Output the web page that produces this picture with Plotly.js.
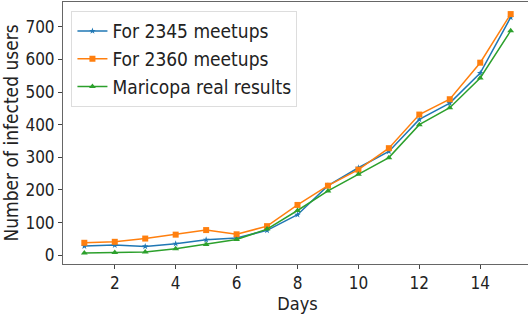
<!DOCTYPE html>
<html><head><meta charset="utf-8">
<script src="https://cdn.plot.ly/plotly-3.0.1.min.js"></script>
<style>html,body{margin:0;padding:0;overflow:hidden;background:#fff}</style>
</head><body><div id="chart"></div>
<script>
const days = [1,2,3,4,5,6,7,8,9,10,11,12,13,14,15];
const meetups2345 = [28,31,27,35,47,53,76,124,213,268,318,416,466,558,729];
const meetups2360 = [38,41,51,63,77,64,89,154,213,262,328,431,478,590,739];
const maricopa = [7,8,10,20,33,48,80,137,197,248,299,400,452,543,688];
const names = ["For 2345 meetups","For 2360 meetups","Maricopa real results"];
const F = "DejaVu Sans Condensed, DejaVu Sans, sans-serif";
const traces = [
 {x:days,y:meetups2345,name:names[0],mode:'lines+markers',line:{color:'#1f77b4',width:1.5},marker:{symbol:'star',size:5,color:'#1f77b4'}},
 {x:days,y:meetups2360,name:names[1],mode:'lines+markers',line:{color:'#ff7f0e',width:1.5},marker:{symbol:'square',size:6,color:'#ff7f0e'}},
 {x:days,y:maricopa,name:names[2],mode:'lines+markers',line:{color:'#2ca02c',width:1.5},marker:{symbol:'triangle-up',size:6,color:'#2ca02c'}}
];
const layout = {
 width:532,height:316,
 margin:{l:63,r:0,t:2,b:52},
 paper_bgcolor:'#fff',plot_bgcolor:'#fff',
 font:{family:F,color:'#222',size:16},
 showlegend:true,
 legend:{x:0.018,y:0.965,xanchor:'left',yanchor:'top',bgcolor:'rgba(255,255,255,0.8)',bordercolor:'#ddd',borderwidth:1,font:{family:F,size:19,color:'#222'},tracegroupgap:0},
 xaxis:{range:[0.3,15.7],tickvals:[2,4,6,8,10,12,14],ticks:'outside',ticklen:4,tickcolor:'#444',showgrid:false,zeroline:false,showline:true,linecolor:'#666',linewidth:1,mirror:true,tickfont:{family:F,size:17},title:{text:'Days',font:{family:F,size:18},standoff:4}},
 yaxis:{range:[-27,776],tickvals:[0,100,200,300,400,500,600,700],ticks:'outside',ticklen:4,tickcolor:'#444',showgrid:false,zeroline:false,showline:true,linecolor:'#666',linewidth:1,mirror:true,tickfont:{family:F,size:17},title:{text:'Number of infected users',font:{family:F,size:19},standoff:1}}
};
Plotly.newPlot('chart',traces,layout,{displayModeBar:false,staticPlot:true});
</script></body></html>
